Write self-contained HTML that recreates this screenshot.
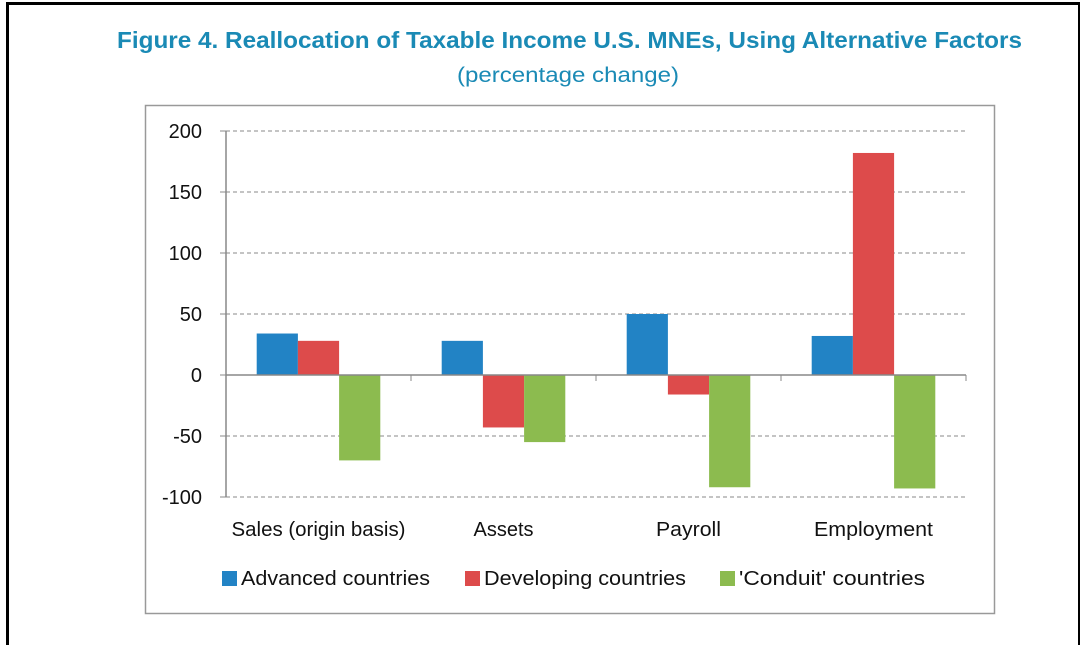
<!DOCTYPE html>
<html><head><meta charset="utf-8"><style>
html,body{margin:0;padding:0;background:#fff;}
body{width:1080px;height:631px;overflow:hidden;position:relative;font-family:"Liberation Sans",sans-serif;}
#frame{position:absolute;left:6px;top:2px;width:1069px;height:640px;border-top:3px solid #000;border-left:3px solid #000;border-right:3px solid #000;}
svg{position:absolute;left:0;top:0;}
</style></head><body>
<div id="frame"></div>
<svg id="chart" width="1080" height="631">
<text x="117" y="48" textLength="905" lengthAdjust="spacingAndGlyphs" font-size="23" font-weight="bold" fill="#1a8ab5">Figure 4. Reallocation of Taxable Income U.S. MNEs, Using Alternative Factors</text>
<text x="457" y="82" textLength="222" lengthAdjust="spacingAndGlyphs" font-size="21" fill="#1a8ab5">(percentage change)</text>
<rect x="145.5" y="105.5" width="849" height="508" fill="none" stroke="#999" stroke-width="1.5"/>
<g id="grid"></g><g id="bars"></g><g id="axes"></g><g id="legend"></g>
</svg>
<script>
const categories=["Sales (origin basis)","Assets","Payroll","Employment"];
const seriesNames=["Advanced countries","Developing countries","'Conduit' countries"];
const advanced=[34,28,50,32];
const developing=[28,-43,-16,182];
const conduit=[-70,-55,-92,-93];
const yTicks=[200,150,100,50,0,-50,-100];
const colors=["#2283c5","#dd4b4b","#8cbb4f"];
const catWidths=[174,60,65,119];
const legWidths=[189,202,186];
const NS="http://www.w3.org/2000/svg";
const X0=226,X1=966,Y0=375,SC=366/300;
const y=v=>Y0-v*SC;
const gw=(X1-X0)/categories.length;
function mk(t,a,p){const e=document.createElementNS(NS,t);for(const k in a)e.setAttribute(k,a[k]);p.appendChild(e);return e;}
const grid=document.getElementById('grid'),bars=document.getElementById('bars'),axes=document.getElementById('axes'),legend=document.getElementById('legend');
yTicks.forEach(t=>{
  if(t!==0){const l=mk('line',{x1:X0,x2:X1,y1:y(t),y2:y(t),stroke:'#888','stroke-dasharray':'4 3'},grid);
  
  }
  const tk=mk('line',{x1:X0-6,x2:X0,y1:y(t),y2:y(t),stroke:'#888'},axes);
  
  
  const tx=mk('text',{x:202,y:y(t)+7,'text-anchor':'end','font-size':20,fill:'#111'},axes);
  tx.textContent=t;
  
  
});
const series=[advanced,developing,conduit];
const bw=41.2;
categories.forEach((c,i)=>{
  const gx=X0+i*gw+(gw-3*bw)/2;
  series.forEach((s,j)=>{
    const v=s[i];
    const r=mk('rect',{x:gx+j*bw,y:Math.min(y(v),Y0),width:bw,height:Math.abs(y(v)-Y0),fill:colors[j]},bars);
    
    
  });
  const cx=X0+i*gw+gw/2;
  const lb=mk('text',{x:cx-catWidths[i]/2,y:536,textLength:catWidths[i],lengthAdjust:'spacingAndGlyphs','font-size':20,fill:'#111'},axes);
  lb.textContent=c;
  
  
  const tk=mk('line',{x1:X0+(i+1)*gw,x2:X0+(i+1)*gw,y1:Y0,y2:Y0+6,stroke:'#888'},axes);
  
  
});
const ya=mk('line',{x1:X0,x2:X0,y1:y(200),y2:y(-100),stroke:'#888','stroke-width':1.5},axes);


const xa=mk('line',{x1:X0,x2:X1,y1:Y0,y2:Y0,stroke:'#888','stroke-width':1.5},axes);


const lx=[222,465,720];
seriesNames.forEach((n,j)=>{
  const g=mk('g',{},legend);
  
  
  mk('rect',{x:lx[j],y:571,width:15,height:15,fill:colors[j]},g);
  const t=mk('text',{x:lx[j]+19,y:585,textLength:legWidths[j],lengthAdjust:'spacingAndGlyphs','font-size':20,fill:'#111'},g);
  t.textContent=n;
});
</script>
</body></html>
